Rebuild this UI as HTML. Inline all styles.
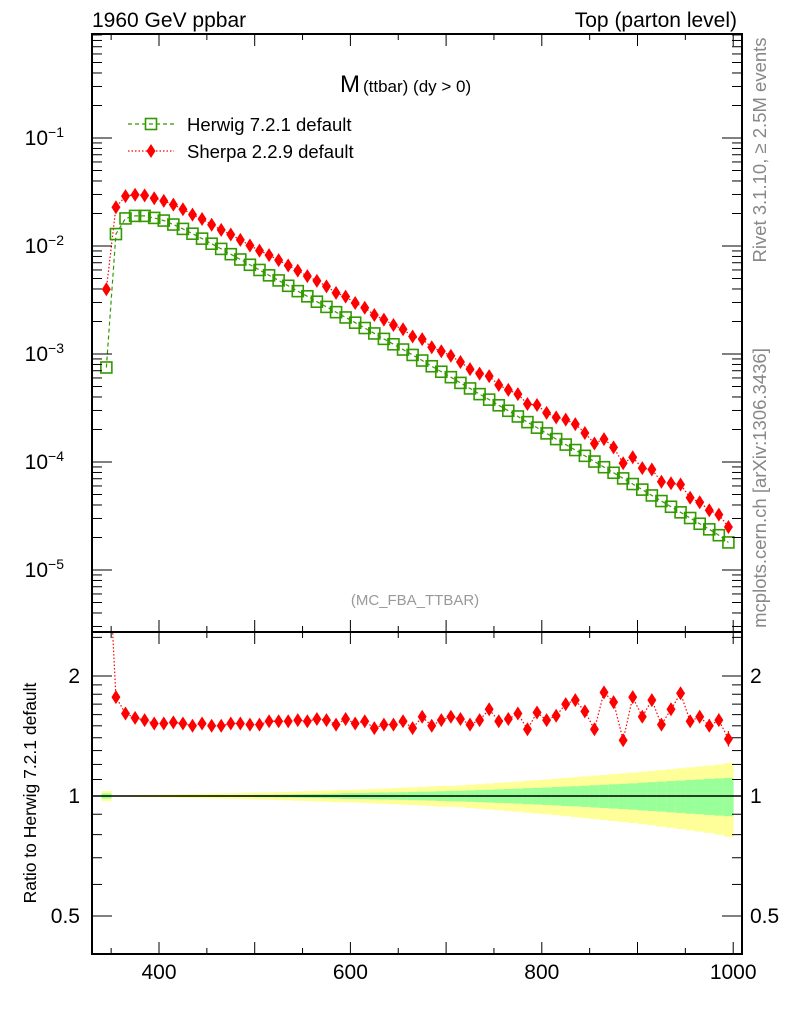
<!DOCTYPE html>
<html><head><meta charset="utf-8"><style>
body{margin:0;background:#fff;}
svg text{font-family:"Liberation Sans",sans-serif;}
</style></head><body>
<svg id="c" width="786" height="1024" xmlns="http://www.w3.org/2000/svg"></svg>
<script>
const binCenters=[345,355,365,375,385,395,405,415,425,435,445,455,465,475,485,495,505,515,525,535,545,555,565,575,585,595,605,615,625,635,645,655,665,675,685,695,705,715,725,735,745,755,765,775,785,795,805,815,825,835,845,855,865,875,885,895,905,915,925,935,945,955,965,975,985,995];
const herwig=[7.5e-4,1.29e-2,1.8e-2,1.9e-2,1.9e-2,1.82e-2,1.72e-2,1.58e-2,1.44e-2,1.3e-2,1.17e-2,1.05e-2,9.4e-3,8.4e-3,7.5e-3,6.7e-3,6.0e-3,5.35e-3,4.8e-3,4.28e-3,3.82e-3,3.42e-3,3.05e-3,2.73e-3,2.44e-3,2.18e-3,1.95e-3,1.74e-3,1.55e-3,1.38e-3,1.23e-3,1.1e-3,9.8e-4,8.7e-4,7.7e-4,6.85e-4,6.1e-4,5.4e-4,4.8e-4,4.25e-4,3.78e-4,3.35e-4,2.98e-4,2.64e-4,2.34e-4,2.08e-4,1.84e-4,1.63e-4,1.45e-4,1.29e-4,1.14e-4,1.01e-4,8.95e-5,7.95e-5,7.05e-5,6.25e-5,5.55e-5,4.9e-5,4.35e-5,3.85e-5,3.42e-5,3.03e-5,2.68e-5,2.38e-5,2.1e-5,1.8e-5];
const sherpaRatio=[5.3,1.77,1.61,1.57,1.55,1.52,1.52,1.53,1.52,1.50,1.52,1.50,1.50,1.52,1.52,1.51,1.51,1.54,1.54,1.54,1.55,1.54,1.56,1.55,1.51,1.56,1.52,1.54,1.48,1.51,1.51,1.54,1.48,1.58,1.50,1.55,1.58,1.56,1.51,1.55,1.65,1.54,1.56,1.61,1.47,1.62,1.55,1.59,1.70,1.74,1.63,1.47,1.82,1.72,1.38,1.77,1.58,1.74,1.51,1.65,1.81,1.54,1.58,1.50,1.55,1.39];
const sherpaErr=[0.02,0.01,0.01,0.01,0.01,0.01,0.01,0.01,0.01,0.01,0.01,0.01,0.01,0.01,0.01,0.01,0.01,0.01,0.01,0.01,0.01,0.01,0.01,0.01,0.01,0.015,0.015,0.015,0.015,0.015,0.015,0.015,0.015,0.02,0.02,0.02,0.02,0.02,0.02,0.02,0.025,0.025,0.025,0.025,0.03,0.03,0.03,0.03,0.035,0.035,0.035,0.04,0.045,0.045,0.05,0.05,0.05,0.05,0.05,0.055,0.055,0.055,0.06,0.06,0.06,0.065];
const bandGreen=[0.015,0.003,0.003,0.003,0.003,0.003,0.003,0.003,0.004,0.004,0.004,0.005,0.005,0.005,0.006,0.006,0.007,0.007,0.008,0.009,0.01,0.011,0.012,0.013,0.014,0.016,0.017,0.018,0.019,0.02,0.021,0.022,0.024,0.025,0.026,0.028,0.03,0.031,0.033,0.035,0.037,0.039,0.041,0.043,0.046,0.048,0.05,0.053,0.056,0.058,0.061,0.064,0.067,0.07,0.073,0.076,0.08,0.083,0.086,0.09,0.093,0.097,0.1,0.104,0.107,0.11];
const bandYellow=[0.03,0.004,0.005,0.006,0.007,0.008,0.009,0.01,0.011,0.012,0.013,0.014,0.015,0.016,0.017,0.019,0.02,0.021,0.023,0.025,0.027,0.029,0.031,0.033,0.035,0.036,0.037,0.039,0.042,0.044,0.046,0.049,0.051,0.054,0.057,0.06,0.06,0.063,0.067,0.071,0.075,0.079,0.083,0.087,0.092,0.096,0.1,0.105,0.11,0.115,0.12,0.125,0.13,0.135,0.14,0.145,0.15,0.156,0.162,0.168,0.174,0.18,0.186,0.192,0.2,0.21];
const xTickLabels=[400,600,800,1000];
const yTickExps=[-1,-2,-3,-4,-5];
const rTickLabels=[0.5,1,2];

const svg=document.getElementById('c');
const NS='http://www.w3.org/2000/svg';
function mk(tag,attrs,parent,text){const e=document.createElementNS(NS,tag);for(const k in attrs)e.setAttribute(k,attrs[k]);if(text!==undefined)e.textContent=text;(parent||svg).appendChild(e);return e;}
const L=92,R=742,T=34,M=632,B=954;
const xS=v=>159+(v-400)*0.957;
const yS=v=>138+(-1-Math.log10(v))*108;
const rS=v=>796-Math.log2(v)*120;
const bw=10*0.957;

const defs=mk('defs',{});
const c1=mk('clipPath',{id:'cm'},defs);mk('rect',{x:L,y:T,width:R-L,height:M-T},c1);
const c2=mk('clipPath',{id:'cr'},defs);mk('rect',{x:L,y:M,width:R-L,height:B-M},c2);

const gR=mk('g',{'clip-path':'url(#cr)'});


binCenters.forEach((c,i)=>{
  const r=mk('rect',{x:xS(c)-bw/2,y:rS(1+bandYellow[i]),width:bw+0.4,height:rS(1-bandYellow[i])-rS(1+bandYellow[i]),fill:'#ffff99'},gR);
  
  
  const g=mk('rect',{x:xS(c)-bw/2,y:rS(1+bandGreen[i]),width:bw+0.4,height:rS(1-bandGreen[i])-rS(1+bandGreen[i]),fill:'#99ff99'},gR);
  
  
});
const ref=mk('line',{x1:L,x2:R,y1:rS(1),y2:rS(1),stroke:'#000','stroke-width':1.5},gR);


let rp='';binCenters.forEach((c,i)=>{rp+=(i?'L':'M')+xS(c)+' '+rS(sherpaRatio[i]);});
mk('path',{d:rp,fill:'none',stroke:'#ff0000','stroke-width':1.2,'stroke-dasharray':'1.5,2'},gR);
binCenters.forEach((c,i)=>{
  const x=xS(c),y=rS(sherpaRatio[i]);
  if(sherpaErr[i]>0.02){mk('line',{x1:x,x2:x,y1:rS(sherpaRatio[i]+sherpaErr[i]),y2:rS(sherpaRatio[i]-sherpaErr[i]),stroke:'#ff0000','stroke-width':1.2,'stroke-dasharray':'1.5,2'},gR);}
  const p=mk('polygon',{points:`${x},${y-7} ${x+4.5},${y} ${x},${y+7} ${x-4.5},${y}`,fill:'#ff0000'},gR);
  
  
});

const gM=mk('g',{'clip-path':'url(#cm)'});


let hp='',sp='';
binCenters.forEach((c,i)=>{hp+=(i?'L':'M')+xS(c)+' '+yS(herwig[i]);sp+=(i?'L':'M')+xS(c)+' '+yS(herwig[i]*sherpaRatio[i]);});
mk('path',{d:hp,fill:'none',stroke:'#339900','stroke-width':1.2,'stroke-dasharray':'4,3'},gM);
mk('path',{d:sp,fill:'none',stroke:'#ff0000','stroke-width':1.2,'stroke-dasharray':'1.5,2'},gM);
binCenters.forEach((c,i)=>{
  const x=xS(c),y=yS(herwig[i]);
  const s=mk('rect',{x:x-5.5,y:y-5.5,width:11,height:11,fill:'none',stroke:'#339900','stroke-width':1.6},gM);
  
  
  const ys=yS(herwig[i]*sherpaRatio[i]);
  const p=mk('polygon',{points:`${x},${ys-7} ${x+4.5},${ys} ${x},${ys+7} ${x-4.5},${ys}`,fill:'#ff0000'},gM);
  
  
});

mk('rect',{x:L,y:T,width:R-L,height:M-T,fill:'none',stroke:'#000','stroke-width':2});
mk('rect',{x:L,y:M,width:R-L,height:B-M,fill:'none',stroke:'#000','stroke-width':2});

for(let v=350;v<=1000;v+=50){
  const x=xS(v),len=(v%100===0)?12:6;
  [[T,1],[M,-1],[M,1],[B,-1]].forEach(([y0,d])=>mk('line',{x1:x,x2:x,y1:y0,y2:y0+d*len,stroke:'#000','stroke-width':1}));
}
xTickLabels.forEach(v=>{const t=mk('text',{x:xS(v),y:979,'font-size':21,'text-anchor':'middle'},svg,String(v));
  
  });

for(let e=0;e>=-6;e--){for(let m=1;m<10;m++){const v=m*Math.pow(10,e-1);const y=yS(v);if(y<T||y>M)continue;const len=m===1?20:10;
  mk('line',{x1:L,x2:L+len,y1:y,y2:y,stroke:'#000'});mk('line',{x1:R,x2:R-len,y1:y,y2:y,stroke:'#000'});}}
yTickExps.forEach(e=>{const y=yS(Math.pow(10,e));const t=mk('text',{x:64,y:y+7,'font-size':21,'text-anchor':'end'},svg,'10');
  mk('tspan',{dy:-8,'font-size':14},t,'−'+(-e));
  
  });

[0.4,0.5,0.6,0.7,0.8,0.9,1,1.1,1.2,1.3,1.4,1.5,1.6,1.7,1.8,1.9,2,2.5].forEach(v=>{const y=rS(v);if(y<M||y>B)return;const len=[0.5,1,2].includes(v)?20:10;
  mk('line',{x1:L,x2:L+len,y1:y,y2:y,stroke:'#000'});mk('line',{x1:R,x2:R-len,y1:y,y2:y,stroke:'#000'});});
rTickLabels.forEach(v=>{const y=rS(v)+7;
  const a=mk('text',{x:80,y:y,'font-size':21,'text-anchor':'end'},svg,String(v));
  
  
  const b=mk('text',{x:750,y:y,'font-size':21},svg,String(v));
  
  });
</script>
<svg width="786" height="1024" style="position:absolute;left:0;top:0" xmlns="http://www.w3.org/2000/svg">
<text x="92" y="27" font-size="21" font-family="Liberation Sans">1960 GeV ppbar</text>
<text x="737" y="27" font-size="21" text-anchor="end" font-family="Liberation Sans">Top (parton level)</text>
<text x="340" y="92" font-size="24" font-family="Liberation Sans">M<tspan font-size="17" dx="3">(ttbar) (dy &gt; 0)</tspan></text>
<g>
<line x1="128" y1="124" x2="174" y2="124" stroke="#339900" stroke-width="1.2" stroke-dasharray="4,3"/>
<rect x="145.5" y="118.5" width="11" height="11" fill="none" stroke="#339900" stroke-width="1.6"/>
<text x="187" y="131" font-size="18.5" font-family="Liberation Sans">Herwig 7.2.1 default</text>
<line x1="128" y1="151" x2="174" y2="151" stroke="#ff0000" stroke-width="1.2" stroke-dasharray="1.5,2"/>
<polygon points="151,144 155.5,151 151,158 146.5,151" fill="#ff0000"/>
<text x="187" y="158" font-size="18.5" font-family="Liberation Sans">Sherpa 2.2.9 default</text>
</g>
<text x="415" y="605" font-size="15" fill="#999" text-anchor="middle" font-family="Liberation Sans">(MC_FBA_TTBAR)</text>
<text transform="translate(766,150) rotate(-90)" font-size="18.5" fill="#888" text-anchor="middle" font-family="Liberation Sans">Rivet 3.1.10, ≥ 2.5M events</text>
<text transform="translate(766,488) rotate(-90)" font-size="18.5" fill="#888" text-anchor="middle" font-family="Liberation Sans">mcplots.cern.ch [arXiv:1306.3436]</text>
<text transform="translate(36,793) rotate(-90)" font-size="17.5" text-anchor="middle" font-family="Liberation Sans">Ratio to Herwig 7.2.1 default</text>
</svg>
</body></html>
